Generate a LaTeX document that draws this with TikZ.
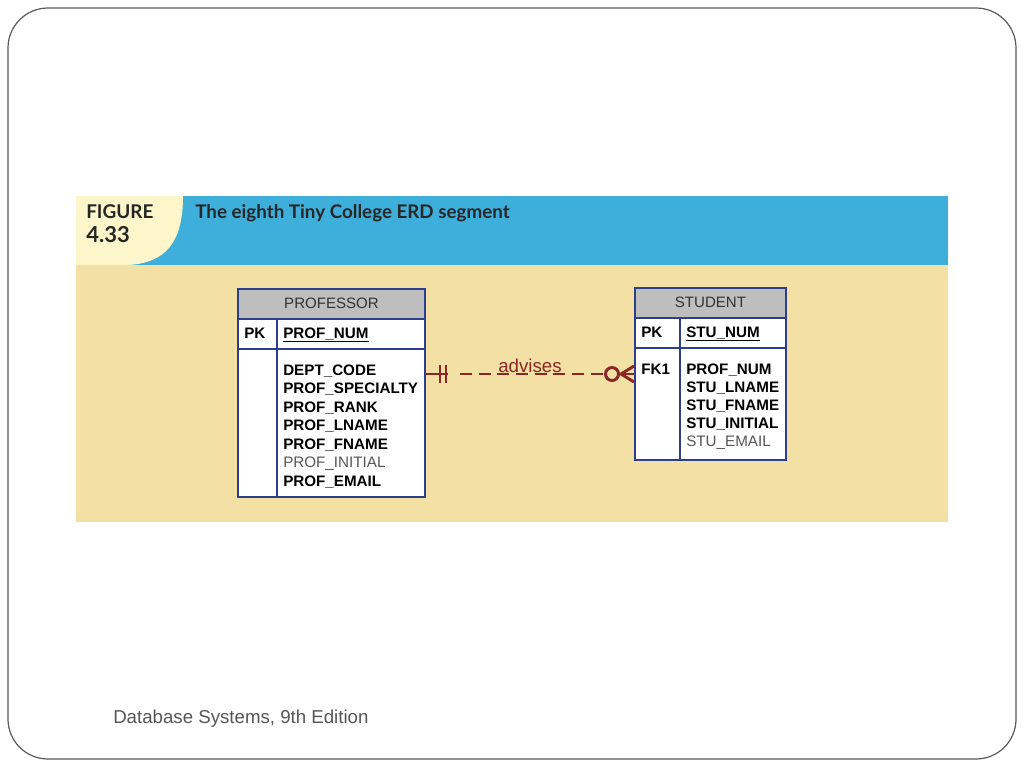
\documentclass[tikz,border=0pt]{standalone}
\usepackage{fontspec}
\setmainfont{Liberation Sans}
\newfontfamily\titlefont{Lato}
\usetikzlibrary{positioning, calc}

\definecolor{bannerblue}{RGB}{62,174,219}
\definecolor{bannercream}{RGB}{252,246,202}
\definecolor{paneltan}{RGB}{243,224,164}
\definecolor{tblblue}{RGB}{44,62,140}
\definecolor{hdrgray}{RGB}{190,190,190}
\definecolor{relred}{RGB}{138,38,38}
\definecolor{softgray}{RGB}{85,85,85}

\begin{document}
\begin{tikzpicture}[x=0.75pt,y=-0.75pt,
    tbl/.style={draw=tblblue,line width=1.3pt},
    hdr/.style={tbl,fill=hdrgray},
    cell/.style={tbl,fill=white},
    attr/.style={anchor=base west,inner sep=0pt,font=\fontsize{11.4}{13}\selectfont\bfseries},
    plain/.style={anchor=base west,inner sep=0pt,font=\fontsize{11.4}{13}\selectfont,text=softgray},
    hdrtext/.style={anchor=base,inner sep=0pt,font=\fontsize{11.3}{13}\selectfont,text=black!80},
    rel/.style={draw=relred,line width=2.2pt}]
    \useasboundingbox (0,0) rectangle (1024,768);
    % slide frame
    \draw[black!65,line width=0.9pt,rounded corners=30pt] (8,8) rectangle (1016,759);
    % banner and panel
    \fill[paneltan] (76,265) rectangle (948,522);
    \fill[bannerblue] (76,196) rectangle (948,265);
    \fill[bannercream] (76,196)--(183,196) .. controls (183,242) and (166,263) .. (128,265)--(76,265)--cycle;
    \node[anchor=base west,inner sep=0pt,font=\titlefont\fontsize{14.2}{16}\selectfont\bfseries,text=black!85] (figlabel) at (86,218) {FIGURE};
    \node[anchor=base west,inner sep=0pt,font=\titlefont\fontsize{16.5}{18}\selectfont\bfseries,text=black!85] (fignum) at (86,242) {4.33};
    \node[anchor=base west,inner sep=0pt,font=\titlefont\fontsize{14.1}{16}\selectfont\bfseries,text=black!85] (figtitle) at (195,218) {The eighth Tiny College ERD segment};

    % PROFESSOR
    \draw[hdr] (238,289) rectangle (425,319);
    \draw[cell] (238,319) rectangle (425,349);
    \draw[cell] (238,349) rectangle (425,497);
    \draw[tbl] (277,319)--(277,497);
    \node[hdrtext] (profname) at (331.5,308) {PROFESSOR};
    \node[attr] (profpk) at (244,338) {PK};
    \node[attr] (profkey) at (283,338) {\underline{PROF\_NUM}};
    \foreach \t/\s [count=\i from 0] in {DEPT\_CODE/attr,PROF\_SPECIALTY/attr,PROF\_RANK/attr,PROF\_LNAME/attr,PROF\_FNAME/attr,PROF\_INITIAL/plain,PROF\_EMAIL/attr}{
        \node[\s] (profattr\i) at (283,375+18.5*\i) {\t};
    }

    % STUDENT
    \draw[hdr] (635,288) rectangle (786,318);
    \draw[cell] (635,318) rectangle (786,348);
    \draw[cell] (635,348) rectangle (786,460);
    \draw[tbl] (680,318)--(680,460);
    \node[hdrtext] (stuname) at (710.5,307) {STUDENT};
    \node[attr] (stupk) at (641,337) {PK};
    \node[attr] (stukey) at (686,337) {\underline{STU\_NUM}};
    \node[attr] (stufk) at (641,374) {FK1};
    \foreach \t/\s [count=\i from 0] in {PROF\_NUM/attr,STU\_LNAME/attr,STU\_FNAME/attr,STU\_INITIAL/attr,STU\_EMAIL/plain}{
        \node[\s] (stuattr\i) at (686,374+18.2*\i) {\t};
    }

    % advises
    \coordinate (advL) at (426,374);
    \coordinate (advR) at (634,374);
    \draw[rel] (advL)--++(22,0);
    \draw[rel] (440,365)--(440,383);
    \draw[rel] (446,365)--(446,383);
    \draw[rel,dash pattern=on 9pt off 5pt] ($(advL)+(34,0)$)--($(advR)+(-29,0)$);
    \draw[rel] (612,374) circle (6.5);
    \draw[rel] (619,374)--(advR);
    \draw[rel] (621,374)--(634,366);
    \draw[rel] (621,374)--(634,382);
    \node[inner sep=0pt,font=\fontsize{14}{16}\selectfont,text=relred] (advlabel) at (530,366) {advises};

    % footer
    \node[anchor=base west,inner sep=0pt,font=\fontsize{14}{16}\selectfont,text=softgray] (footer) at (113,723) {Database Systems, 9th Edition};
\end{tikzpicture}
\end{document}
